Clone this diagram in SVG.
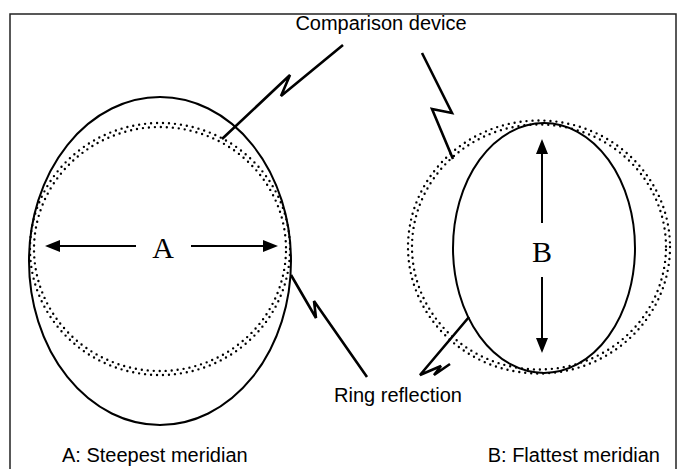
<svg xmlns="http://www.w3.org/2000/svg" width="686" height="469" viewBox="0 0 686 469">
  <style>
    .frame { fill: none; stroke: #222; stroke-width: 1.5; }
    .cornea { fill: none; stroke: #000; stroke-width: 2; }
    .ring { fill: none; stroke: #000; stroke-width: 2.4; stroke-dasharray: 0 6; stroke-linecap: round; }
    .leader { fill: none; stroke: #000; stroke-width: 2.6; stroke-linejoin: miter; }
    .dim { stroke: #000; stroke-width: 2; }
    .label { font-family: "Liberation Sans", Arial, sans-serif; font-size: 20px; fill: #000; }
    .letter { font-family: "Liberation Serif", "Times New Roman", serif; font-size: 30px; fill: #000; text-anchor: middle; }
  </style>
  <defs>
    <marker id="head" viewBox="0 0 15 12" refX="12" refY="6" markerWidth="15" markerHeight="12" markerUnits="userSpaceOnUse" orient="auto">
      <path d="M0,0 L15,6 L0,12 z" fill="#000"/>
    </marker>
  </defs>

  <rect width="686" height="469" fill="#fff"/>
  <rect class="frame" x="10" y="14" width="666" height="470"/>

  <!-- steepest meridian: tall cornea outline with ring image -->
  <g id="steepest">
    <ellipse class="cornea" cx="160" cy="261" rx="131" ry="164"/>
    <ellipse class="ring" cx="160" cy="249" rx="130" ry="126"/>
    <ellipse class="ring" cx="160" cy="249" rx="126" ry="122" stroke-dashoffset="3"/>
    <line class="dim" x1="136" y1="246" x2="48" y2="246" marker-end="url(#head)"/>
    <line class="dim" x1="191" y1="246" x2="275" y2="246" marker-end="url(#head)"/>
    <text class="letter" x="163" y="258">A</text>
  </g>

  <!-- flattest meridian: narrow cornea outline with ring image -->
  <g id="flattest">
    <ellipse class="cornea" cx="544" cy="248" rx="91" ry="125"/>
    <ellipse class="ring" cx="539" cy="247" rx="131" ry="126.5"/>
    <ellipse class="ring" cx="539" cy="247" rx="127" ry="122.5" stroke-dashoffset="3"/>
    <line class="dim" x1="542" y1="223" x2="542" y2="142" marker-end="url(#head)"/>
    <line class="dim" x1="542" y1="277" x2="542" y2="350" marker-end="url(#head)"/>
    <text class="letter" x="542" y="262">B</text>
  </g>

  <!-- zigzag leader lines -->
  <g id="connectors">
    <path class="leader" d="M222,139 L290,75 L281,96 L343,45"/>
    <path class="leader" d="M422,53 L452,113 L432,109 L453,159"/>
    <path class="leader" d="M291,275 L316,318 L314,301 L367,377"/>
    <path class="leader" d="M469,317 L420,375 L441,366 L434,375 L450,364"/>
  </g>

  <g id="labels">
    <text class="label" x="381" y="30" text-anchor="middle">Comparison device</text>
    <text class="label" x="398" y="402" text-anchor="middle">Ring reflection</text>
    <text class="label" x="62" y="462">A: Steepest meridian</text>
    <text class="label" x="660" y="462" text-anchor="end">B: Flattest meridian</text>
  </g>
</svg>
